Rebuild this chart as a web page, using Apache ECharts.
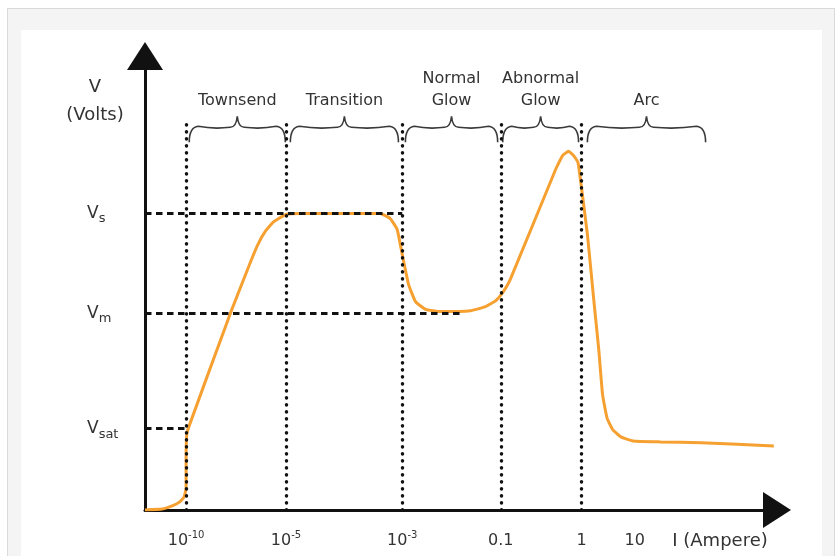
<!DOCTYPE html>
<html>
<head>
<meta charset="utf-8">
<script src="https://cdn.jsdelivr.net/npm/echarts@6/dist/echarts.min.js"></script>
<style>
  html, body { margin: 0; padding: 0; background: #fff; overflow: hidden; }
  #frame { position: absolute; left: 7px; top: 8px; width: 826px; height: 560px;
           border: 1px solid #dadada; background: #f4f4f4; }
  #paper { position: absolute; left: 21px; top: 30px; width: 801px; height: 540px; background: #fff; }
  #chart { position: absolute; left: 0; top: 0; width: 838px; height: 556px; }
</style>
</head>
<body>
<div id="frame"></div>
<div id="paper"></div>
<div id="chart"></div>
<script>
// schematic units: x = position along the current axis (0..100), y = voltage (0..100)
const xTickPos = [6.5, 22.3, 40.7, 56.3, 69.1, 77.5];
const xTickBase = ['10', '10', '10', '0.1', '1', '10'];
const xTickExp = ['-10', '-5', '-3', '', '', ''];

const yLevels = [17.9, 43.3, 65.3];
const yLevelSub = ['sat', 'm', 's'];

// dotted guides up to the braces, dashed guides from the V axis
const guideX = [6.5, 22.3, 40.7, 56.3, 69.1];
const guideTop = 85;
const hGuideEnd = [6.5, 50.0, 40.7];

// regions marked by braces
const regionStart = [7.0, 23.0, 41.2, 56.6, 70.0];
const regionEnd = [22.2, 40.1, 55.8, 68.6, 88.7];
const regionLabels = ['Townsend', 'Transition', 'Normal\nGlow', 'Abnormal\nGlow', 'Arc'];
const braceLevel = 84.3;

// V-I curve
const curveX = [0, 2.7, 4.3, 5.5, 6.2, 6.5, 6.5, 6.6, 6.9, 13.5, 16.6, 17.8, 19.0, 20.3, 22.3, 24.6,
  37.2, 38.8, 39.9, 40.7, 41.7, 42.8, 44.4, 46.8, 51.5, 53.9, 55.5, 56.6, 57.8,
  65.0, 66.1, 67.0, 67.8, 68.5, 68.9, 70.0, 71.0, 71.8, 72.4, 73.1, 74.0, 75.3,
  77.2, 81.6, 88.0, 99.5];
const curveY = [0, 0.2, 0.9, 1.8, 2.9, 4.9, 11.0, 16.6, 18.2, 43.3, 54.3, 58.3, 61.3, 63.4, 65.1, 65.3,
  65.3, 64.2, 61.8, 56.3, 49.7, 45.9, 44.2, 43.7, 43.9, 44.8, 46.1, 47.9, 50.8,
  75.1, 78.1, 79.0, 78.1, 76.6, 72.8, 60.7, 46.4, 35.3, 25.4, 20.3, 17.7, 16.1,
  15.2, 15.0, 14.8, 14.1];

const FONT = 'DejaVu Sans';
const TEXT = '#333';

function findIndex(list, v) {
  return list.findIndex(t => Math.abs(t - v) < 1e-6);
}

function renderBrace(params, api) {
  const a = api.coord([api.value(0), api.value(2)]);
  const b = api.coord([api.value(1), api.value(2)]);
  const x0 = a[0], x1 = b[0], y = a[1], xm = (x0 + x1) / 2;
  const d = 'M' + x0 + ' ' + (y + 15) + ' Q' + x0 + ' ' + y + ' ' + (x0 + 9) + ' ' + (y - 1) +
    ' Q' + ((x0 + xm) / 2) + ' ' + (y + 2) + ' ' + (xm - 7) + ' ' + y +
    ' Q' + (xm - 1) + ' ' + y + ' ' + xm + ' ' + (y - 11) +
    ' Q' + (xm + 1) + ' ' + y + ' ' + (xm + 7) + ' ' + y +
    ' Q' + ((xm + x1) / 2) + ' ' + (y + 2) + ' ' + (x1 - 9) + ' ' + (y - 1) +
    ' Q' + x1 + ' ' + y + ' ' + x1 + ' ' + (y + 15);
  return {
    type: 'group',
    children: [
      { type: 'path', shape: { pathData: d }, style: { fill: 'none', stroke: '#3a3a3a', lineWidth: 1.6 } },
      {
        type: 'text', x: xm, y: y - 15,
        style: {
          text: regionLabels[params.dataIndex], fill: TEXT, font: '16px "' + FONT + '"',
          align: 'center', verticalAlign: 'bottom', lineHeight: 22
        }
      }
    ]
  };
}

const dotted = { color: '#111', width: 3.4, type: [0.4, 6.6], cap: 'round' };
const dashed = { color: '#111', width: 3, type: [6.5, 4.5] };

const guides = [];
guideX.forEach(x => {
  guides.push([{ coord: [x, 0], lineStyle: dotted }, { coord: [x, guideTop] }]);
});
yLevels.forEach((y, i) => {
  guides.push([{ coord: [0, y], lineStyle: dashed }, { coord: [hGuideEnd[i], y] }]);
});

const option = {
  animation: false,
  backgroundColor: 'transparent',
  grid: { left: 145, right: 61, top: 56, bottom: 46, containLabel: false, outerBoundsMode: 'none' },
  xAxis: {
    type: 'value', min: 0, max: 100,
    splitLine: { show: false },
    axisTick: { show: false },
    axisLine: { lineStyle: { color: '#111', width: 3 }, symbol: ['none', 'triangle'], symbolSize: [36, 28] },
    axisLabel: {
      customValues: xTickPos, margin: 20,
      formatter: v => {
        const i = findIndex(xTickPos, v);
        return xTickExp[i] ? '{b|' + xTickBase[i] + '}{s|' + xTickExp[i] + '}' : '{b|' + xTickBase[i] + '}';
      },
      rich: {
        b: { fontFamily: FONT, fontSize: 16, color: TEXT, lineHeight: 22 },
        s: { fontFamily: FONT, fontSize: 10, color: TEXT, lineHeight: 12, verticalAlign: 'top' }
      }
    },
    name: 'I (Ampere)', nameLocation: 'end', nameGap: -57, nameMoveOverlap: false,
    nameTextStyle: { fontFamily: FONT, fontSize: 18, color: TEXT, align: 'center', verticalAlign: 'top', padding: [22, 0, 0, 0] }
  },
  yAxis: {
    type: 'value', min: 0, max: 100,
    splitLine: { show: false },
    axisTick: { show: false },
    axisLine: { lineStyle: { color: '#111', width: 3 }, symbol: ['none', 'triangle'], symbolSize: [36, 28] },
    axisLabel: {
      customValues: yLevels, align: 'left', margin: 58,
      formatter: v => '{v|V}{sub|' + yLevelSub[findIndex(yLevels, v)] + '}',
      rich: {
        v: { fontFamily: FONT, fontSize: 17, color: TEXT, lineHeight: 24 },
        sub: { fontFamily: FONT, fontSize: 13, color: TEXT, lineHeight: 16, verticalAlign: 'bottom' }
      }
    },
    name: 'V\n(Volts)', nameLocation: 'end', nameGap: -45, nameMoveOverlap: false,
    nameTextStyle: { fontFamily: FONT, fontSize: 18, color: TEXT, lineHeight: 28, align: 'center', verticalAlign: 'middle', padding: [0, 100, 0, 0] }
  },
  series: [
    {
      type: 'line', data: [], z: 1, silent: true,
      markLine: { silent: true, symbol: ['none', 'none'], label: { show: false }, data: guides }
    },
    {
      type: 'custom', coordinateSystem: 'cartesian2d', z: 2, silent: true, clip: false,
      renderItem: renderBrace,
      data: regionStart.map((s, i) => [s, regionEnd[i], braceLevel])
    },
    {
      type: 'line', z: 3, silent: true, showSymbol: false, smooth: 0.12,
      lineStyle: { color: '#f5a030', width: 3 },
      data: curveX.map((x, i) => [x, curveY[i]])
    }
  ]
};

const chart = echarts.init(document.getElementById('chart'));
chart.setOption(option);
</script>
</body>
</html>
